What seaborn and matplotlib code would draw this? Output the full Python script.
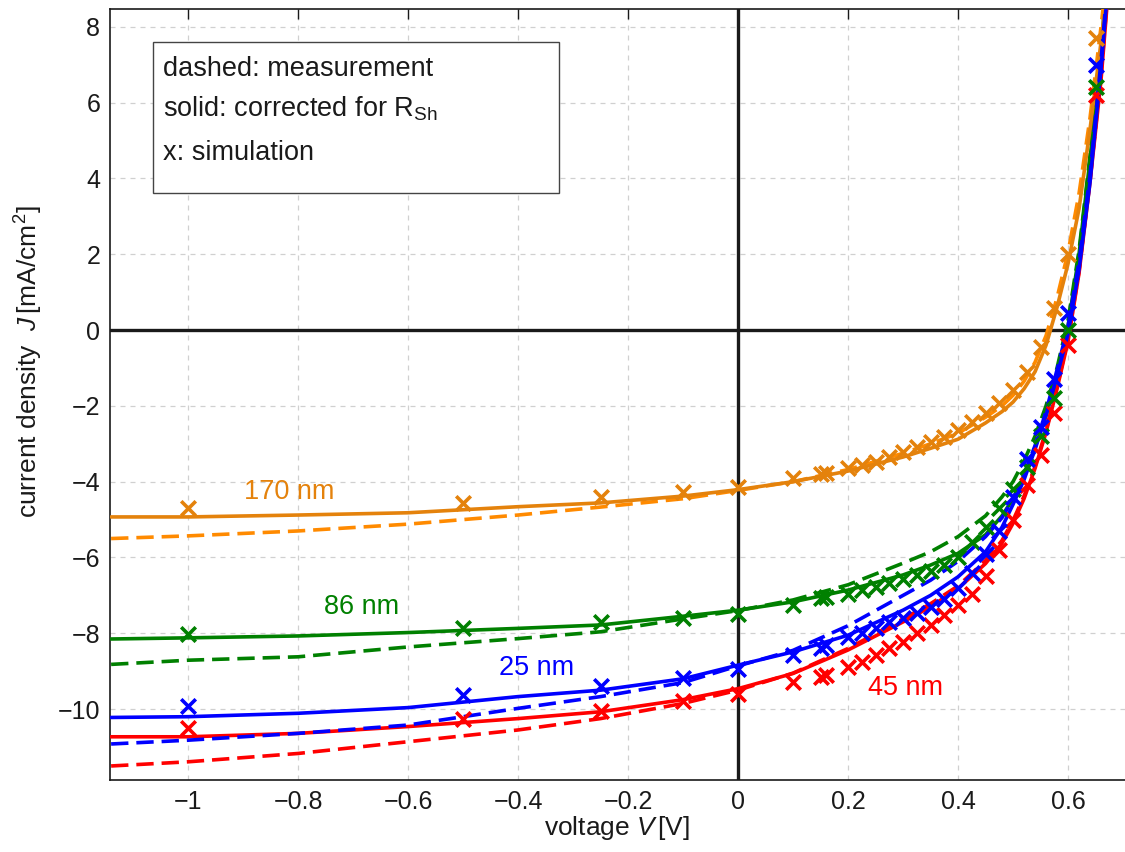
import numpy as np
import pandas as pd
import matplotlib
matplotlib.use("Agg")
import matplotlib.pyplot as plt
import seaborn as sns
from matplotlib.patches import Rectangle

# voltage grid of the measured / corrected curves
v_line = [-1.14, -1.0, -0.8, -0.6, -0.4, -0.25, -0.1, 0.0, 0.1, 0.2, 0.3, 0.35, 0.4,
          0.45, 0.48, 0.5, 0.52, 0.54, 0.56, 0.58, 0.6, 0.62, 0.64, 0.66, 0.68]

# 170 nm
j170_solid = [-4.93, -4.93, -4.88, -4.82, -4.66, -4.56, -4.38, -4.21, -4.0, -3.72, -3.35, -3.12, -2.88,
              -2.45, -2.15, -1.9, -1.55, -1.1, -0.4, 0.6, 1.75, 3.2, 5.3, 7.6, 10.2]
j170_dash = [-5.50, -5.43, -5.30, -5.12, -4.88, -4.67, -4.45, -4.23, -4.0, -3.68, -3.25, -3.0, -2.72,
             -2.3, -2.0, -1.72, -1.35, -0.85, -0.15, 0.85, 2.05, 3.6, 5.6, 8.0, 10.6]
# 86 nm
j86_solid = [-8.15, -8.12, -8.07, -7.98, -7.87, -7.78, -7.55, -7.39, -7.17, -6.86, -6.46, -6.2, -5.89,
             -5.4, -4.9, -4.45, -3.85, -3.1, -2.25, -1.2, 0.1, 2.0, 4.5, 7.4, 10.8]
j86_dash = [-8.82, -8.71, -8.62, -8.36, -8.14, -7.96, -7.62, -7.40, -7.12, -6.72, -6.15, -5.85, -5.45,
            -4.9, -4.4, -4.0, -3.45, -2.8, -2.0, -1.0, 0.25, 2.1, 4.6, 7.5, 10.9]
# 25 nm
j25_solid = [-10.22, -10.2, -10.11, -9.96, -9.67, -9.5, -9.2, -8.84, -8.49, -8.05, -7.39, -7.0, -6.51,
             -5.85, -5.2, -4.6, -3.95, -3.15, -2.25, -1.2, -0.1, 1.6, 3.9, 6.9, 10.4]
j25_dash = [-10.92, -10.82, -10.64, -10.42, -9.98, -9.67, -9.3, -8.86, -8.45, -7.8, -7.0, -6.6, -6.1,
            -5.45, -4.95, -4.45, -3.8, -3.05, -2.15, -1.05, 0.1, 1.8, 4.1, 7.1, 10.6]
# 45 nm
j45_solid = [-10.73, -10.73, -10.64, -10.46, -10.25, -10.07, -9.75, -9.46, -9.06, -8.44, -7.7, -7.3, -6.82,
             -6.16, -5.62, -5.1, -4.45, -3.65, -2.7, -1.55, -0.3, 1.5, 3.9, 6.6, 10.2]
j45_dash = [-11.5, -11.39, -11.17, -10.86, -10.55, -10.25, -9.85, -9.5, -9.05, -8.4, -7.62, -7.22, -6.75,
            -6.08, -5.55, -5.02, -4.38, -3.6, -2.65, -1.5, -0.25, 1.55, 3.95, 6.7, 10.3]

# simulation points
v_sim = [-1, -0.5, -0.25, -0.1, 0, 0.1, 0.15, 0.16, 0.2, 0.225, 0.25, 0.275, 0.3, 0.325,
         0.35, 0.375, 0.4, 0.425, 0.45, 0.475, 0.5, 0.525, 0.55, 0.575, 0.6, 0.65]
j170_sim = [-4.70, -4.56, -4.41, -4.27, -4.13, -3.91, -3.79, -3.76, -3.65, -3.55, -3.47, -3.36, -3.21,
            -3.08, -2.95, -2.81, -2.64, -2.42, -2.2, -1.93, -1.58, -1.10, -0.44, 0.57, 2.0, 7.7]
j86_sim = [-8.03, -7.87, -7.70, -7.60, -7.48, -7.26, -7.08, -7.04, -6.95, -6.86, -6.77, -6.68, -6.58,
           -6.47, -6.35, -6.2, -6.0, -5.6, -5.2, -4.7, -4.2, -3.6, -2.8, -1.8, 0.0, 6.4]
j25_sim = [-9.92, -9.63, -9.39, -9.18, -8.93, -8.58, -8.40, -8.32, -8.09, -7.99, -7.85, -7.71, -7.59,
           -7.46, -7.3, -7.1, -6.8, -6.4, -5.9, -5.3, -4.4, -3.4, -2.55, -1.3, 0.44, 7.0]
j45_sim = [-10.51, -10.25, -10.05, -9.79, -9.59, -9.28, -9.15, -9.10, -8.88, -8.76, -8.58, -8.40, -8.22,
           -8.0, -7.78, -7.52, -7.26, -6.95, -6.5, -5.8, -5.0, -4.1, -3.3, -2.2, -0.4, 6.2]

labels = ["170 nm", "86 nm", "25 nm", "45 nm"]
label_pos = [(-0.816, -4.27), (-0.685, -7.31), (-0.367, -8.92), (0.305, -9.45)]
colors = ["#E4820C", "#008000", "#0000FF", "#FF0000"]
dash_colors = ["#FF8A00", "#008000", "#0000FF", "#FF0000"]

curves = {
    "170 nm": (j170_solid, j170_dash, j170_sim),
    "86 nm": (j86_solid, j86_dash, j86_sim),
    "25 nm": (j25_solid, j25_dash, j25_sim),
    "45 nm": (j45_solid, j45_dash, j45_sim),
}

sns.set_theme(style="white")
plt.rcParams["font.family"] = ["Liberation Sans", "DejaVu Sans"]
plt.rcParams["mathtext.fontset"] = "custom"
plt.rcParams["mathtext.rm"] = "Liberation Sans"
plt.rcParams["mathtext.it"] = "Liberation Sans:italic"
plt.rcParams["text.color"] = "k"
plt.rcParams["axes.labelcolor"] = "k"

fig = plt.figure(figsize=(11.25, 8.52), dpi=100)
ax = fig.add_axes([110 / 1125, 72 / 852, 1015 / 1125, 771 / 852])

ax.axhline(0, color="k", lw=2.4, zorder=1)
ax.axvline(0, color="k", lw=2.4, zorder=1)

# draw order: red, green, orange, blue on top
for name in ["45 nm", "86 nm", "170 nm", "25 nm"]:
    i = labels.index(name)
    solid, dash, sim = curves[name]
    df_l = pd.DataFrame({"V": v_line, "solid": solid, "dash": dash})
    sns.lineplot(data=df_l, x="V", y="dash", color=dash_colors[i], lw=2.6, ax=ax, zorder=3,
                 linestyle=(0, (4.8, 2.2)))
    sns.lineplot(data=df_l, x="V", y="solid", color=colors[i], lw=2.6, ax=ax, zorder=3)
    df_s = pd.DataFrame({"V": v_sim, "J": sim})
    sns.scatterplot(data=df_s, x="V", y="J", color=colors[i], marker="x", s=110,
                    linewidth=2.6, ax=ax, zorder=4)

for name, (tx, ty) in zip(labels, label_pos):
    ax.text(tx, ty, name, color=colors[labels.index(name)], fontsize=19.5,
            ha="center", va="center")

ax.set_xlim(-1.142, 0.7036)
ax.set_ylim(-11.87, 8.47)
ax.set_xticks([-1, -0.8, -0.6, -0.4, -0.2, 0, 0.2, 0.4, 0.6])
ax.set_xticklabels(["\u22121", "\u22120.8", "\u22120.6", "\u22120.4", "\u22120.2", "0", "0.2", "0.4", "0.6"])
ax.set_yticks([-10, -8, -6, -4, -2, 0, 2, 4, 6, 8])
ax.set_yticklabels(["\u221210", "\u22128", "\u22126", "\u22124", "\u22122", "0", "2", "4", "6", "8"])
ax.grid(True, color="#d0d0d0", lw=0.9, linestyle=(0, (4, 4)))
ax.set_axisbelow(True)
ax.tick_params(direction="in", length=7, width=1, top=True, right=False,
               labelsize=18, colors="k", pad=7)
for side in ["left", "bottom", "top"]:
    ax.spines[side].set_color("k")
    ax.spines[side].set_linewidth(1.2)
ax.spines["right"].set_visible(False)

ax.set_xlabel(r"voltage $V\,$[V]", fontsize=19, labelpad=0, color="k")
ax.set_ylabel(r"current density  $J\,$[mA/cm$^2$]", fontsize=19, color="k")
ax.yaxis.set_label_coords(-0.064, 0.542)

# annotation box
ax.add_patch(Rectangle((0.0422, 0.761), 0.4, 0.196, transform=ax.transAxes,
                       facecolor="white", edgecolor="#444444", lw=1.0, zorder=6))
box_lines = ["dashed: measurement", r"solid: corrected for R$_{\mathrm{Sh}}$", "x: simulation"]
for txt, yy in zip(box_lines, [0.913, 0.861, 0.804]):
    ax.text(0.0522, yy, txt, transform=ax.transAxes, fontsize=19.5, va="baseline",
            ha="left", color="k", zorder=7)

fig.savefig("out.png", dpi=100)
